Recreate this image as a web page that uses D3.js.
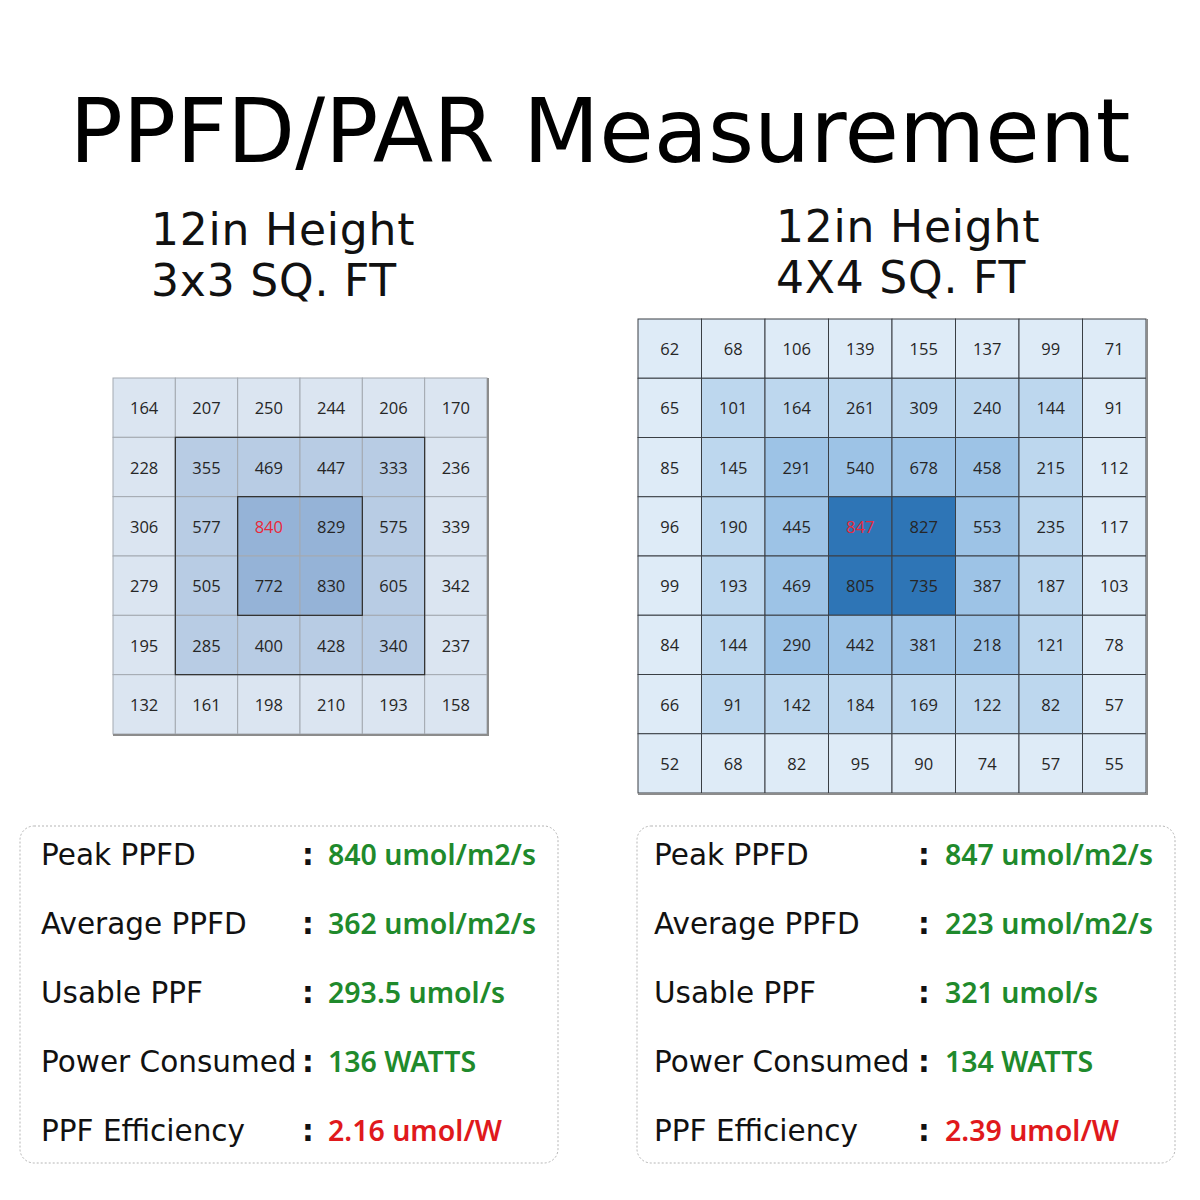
<!DOCTYPE html>
<html lang="en">
<head>
    <meta charset="UTF-8">
    <title>PPFD/PAR Measurement</title>
    <script src="https://d3js.org/d3.v7.min.js"></script>
    <style>
        body { margin: 0; padding: 0; background: #fff; }
        svg { display: block; }
        .cell-num { font-family: 'Open Sans', sans-serif; font-size: 16.5px; fill: #262626; }
        .label { font-family: 'DejaVu Sans', sans-serif; font-size: 29.5px; fill: #111; }
        .value { font-family: 'Noto Sans', sans-serif; font-size: 28.5px; font-weight: 600; }
    </style>
</head>
<body>
<svg id="chart" width="1200" height="1200"></svg>
<script>
// measured PPFD values, row by row
const grid3x3 = [
    [164, 207, 250, 244, 206, 170],
    [228, 355, 469, 447, 333, 236],
    [306, 577, 840, 829, 575, 339],
    [279, 505, 772, 830, 605, 342],
    [195, 285, 400, 428, 340, 237],
    [132, 161, 198, 210, 193, 158]
];
const grid4x4 = [
    [62, 68, 106, 139, 155, 137, 99, 71],
    [65, 101, 164, 261, 309, 240, 144, 91],
    [85, 145, 291, 540, 678, 458, 215, 112],
    [96, 190, 445, 847, 827, 553, 235, 117],
    [99, 193, 469, 805, 735, 387, 187, 103],
    [84, 144, 290, 442, 381, 218, 121, 78],
    [66, 91, 142, 184, 169, 122, 82, 57],
    [52, 68, 82, 95, 90, 74, 57, 55]
];

const statLabels = ["Peak PPFD", "Average PPFD", "Usable PPF", "Power Consumed", "PPF Efficiency"];
const stats3x3 = ["840 umol/m2/s", "362 umol/m2/s", "293.5 umol/s", "136 WATTS", "2.16 umol/W"];
const stats4x4 = ["847 umol/m2/s", "223 umol/m2/s", "321 umol/s", "134 WATTS", "2.39 umol/W"];

const titleText = "PPFD/PAR Measurement";
const subtitles3x3 = ["12in Height", "3x3 SQ. FT"];
const subtitles4x4 = ["12in Height", "4X4 SQ. FT"];

const svg = d3.select("#chart");

// title
svg.append("text")
    .attr("x", 600).attr("y", 162)
    .attr("text-anchor", "middle")
    .style("font-family", "'DejaVu Sans', sans-serif")
    .style("font-size", "88.5px")
    .style("fill", "#000")
    .text(titleText);

function subtitle(lines, x, y0) {
    lines.forEach((t, i) => {
        svg.append("text")
            .attr("x", x).attr("y", y0 + i * 51)
            .style("font-family", "'DejaVu Sans', sans-serif")
            .style("font-size", "44px")
            .style("letter-spacing", "0.8px")
            .style("fill", "#111")
            .text(t);
    });
}
subtitle(subtitles3x3, 151, 245);
subtitle(subtitles4x4, 776, 242);

// ring index = distance from the edge of the grid
function ring(i, j, n) {
    return Math.min(i, j, n - 1 - i, n - 1 - j);
}

function drawGrid(data, x0, x1, y0, y1, colors, opts) {
    const n = data.length;
    const x = d3.scaleBand().domain(d3.range(n)).range([x0, x1]);
    const y = d3.scaleBand().domain(d3.range(n)).range([y0, y1]);
    const fill = d3.scaleOrdinal().domain(d3.range(colors.length)).range(colors);
    const peak = d3.max(data.flat());

    const cells = [];
    data.forEach((row, i) => row.forEach((v, j) => cells.push({ i, j, v, r: ring(i, j, n) })));

    const g = svg.append("g");
    g.selectAll("rect.cell")
        .data(cells)
        .join("rect")
        .attr("class", "cell")
        .attr("x", d => x(d.j))
        .attr("y", d => y(d.i))
        .attr("width", x.bandwidth())
        .attr("height", y.bandwidth())
        .attr("fill", d => fill(d.r))
        .attr("stroke", opts.cellStroke)
        .attr("stroke-width", 1);

    // dark outlines round the inner rings
    if (opts.ringStroke) {
        d3.range(1, Math.floor(n / 2)).forEach(k => {
            g.append("rect")
                .attr("x", x(k)).attr("y", y(k))
                .attr("width", x(n - k) - x(k))
                .attr("height", y(n - k) - y(k))
                .attr("fill", "none")
                .attr("stroke", opts.ringStroke)
                .attr("stroke-width", 1.2);
        });
    }

    // drop-shadow edges on the right and bottom
    g.append("line")
        .attr("x1", x1 + 1).attr("x2", x1 + 1).attr("y1", y0).attr("y2", y1 + 2)
        .attr("stroke", "#8c8c8c").attr("stroke-width", 2);
    g.append("line")
        .attr("x1", x0).attr("x2", x1 + 2).attr("y1", y1 + 1).attr("y2", y1 + 1)
        .attr("stroke", "#8c8c8c").attr("stroke-width", 2);

    g.selectAll("text.cell-num")
        .data(cells)
        .join("text")
        .attr("class", "cell-num")
        .attr("x", d => x(d.j) + x.bandwidth() / 2)
        .attr("y", d => y(d.i) + y.bandwidth() / 2)
        .attr("text-anchor", "middle")
        .attr("dominant-baseline", "central")
        .style("fill", d => d.v === peak ? "#e8283a" : "#262626")
        .text(d => d.v);
}

drawGrid(grid3x3, 113, 487, 378, 734,
    ["#dbe5f1", "#b8cce4", "#95b3d7"],
    { cellStroke: "#a3a9b1", ringStroke: "#2b2b2b" });

drawGrid(grid4x4, 638, 1146, 319, 793,
    ["#deebf7", "#bdd7ee", "#9dc3e6", "#2e75b6"],
    { cellStroke: "#3a3f45", ringStroke: null });

// stat boxes
function statBox(values, bx, labelX, colonX, valueX) {
    const rowY = d3.scaleLinear().domain([0, statLabels.length - 1]).range([865, 1141]);
    svg.append("rect")
        .attr("x", bx).attr("y", 826)
        .attr("width", 538).attr("height", 337)
        .attr("rx", 14)
        .attr("fill", "none")
        .attr("stroke", "#b5b5b5")
        .attr("stroke-width", 1)
        .attr("stroke-dasharray", "2,2");

    const g = svg.append("g");
    statLabels.forEach((lab, i) => {
        g.append("text").attr("class", "label")
            .attr("x", labelX).attr("y", rowY(i)).text(lab);
        g.append("text").attr("class", "label")
            .attr("x", colonX).attr("y", rowY(i))
            .style("font-weight", "bold").text(":");
        g.append("text").attr("class", "value")
            .attr("x", valueX).attr("y", rowY(i))
            .style("fill", i === statLabels.length - 1 ? "#e0191c" : "#1f8a2c")
            .text(values[i]);
    });
}
statBox(stats3x3, 20, 41, 302, 328);
statBox(stats4x4, 637, 654, 918, 945);
</script>
</body>
</html>
